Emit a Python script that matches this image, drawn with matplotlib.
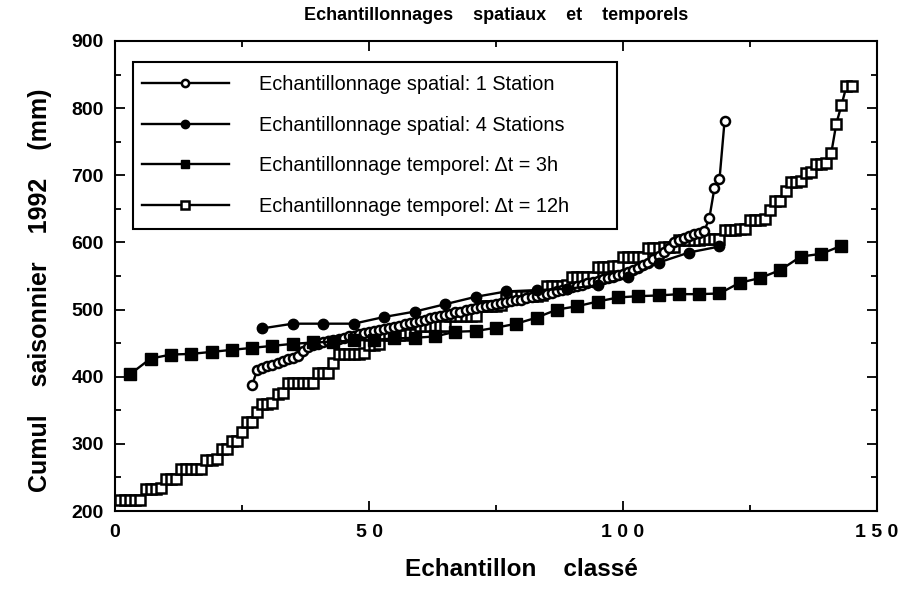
import numpy as np
import matplotlib
matplotlib.use('Agg')
import matplotlib.pyplot as plt
from matplotlib.patches import Rectangle
from matplotlib.ticker import MultipleLocator, FixedLocator

plt.rcParams['font.family'] = ['Liberation Sans', 'DejaVu Sans']

# ranked samples (x = rank)
rank_12h = np.arange(1, 146)
cumul_12h = [216, 216, 216, 217, 217,
             233, 233, 233, 234,
             247, 247, 248,
             262, 262, 262, 263, 263,
             276, 276, 277,
             292, 292,
             304, 305,
             318,
             332, 332,
             347,
             360, 360, 361,
             375, 376,
             390, 390, 390, 390, 390, 391,
             406, 406, 406,
             420,
             434, 434, 434, 434, 434, 435,
             447, 447, 448,
             462, 462, 462, 462, 462, 463, 463,
             475, 475, 475, 475, 476, 476,
             490, 490, 490, 490, 491, 491,
             506, 506, 506, 506, 507,
             519, 519, 520, 520, 520, 520, 520, 521,
             535, 535, 535, 535, 536,
             548, 548, 548, 549, 549,
             564, 564, 564, 565, 565,
             578, 578, 578, 579, 579,
             592, 592, 592, 593, 593, 593,
             604, 604, 604, 604, 604, 605, 605, 605, 605,
             619, 619, 619, 620, 620,
             634, 634, 634, 635,
             648,
             661, 661,
             676,
             690, 690, 691,
             704, 705,
             717, 717, 718,
             733, 777, 804, 833, 833]

rank_3h = np.arange(3, 144, 4)
cumul_3h = [404, 427, 433, 434, 437, 440, 443, 446, 449, 451,
            452, 454, 455, 457, 458, 460, 467, 468, 473, 479,
            488, 500, 505, 512, 518, 520, 521, 523, 523, 524,
            540, 547, 559, 579, 583, 595]

rank_4st = np.arange(29, 120, 6)
cumul_4st = [472, 479, 479, 479, 489, 497, 508, 519, 527, 529,
             531, 536, 548, 570, 585, 594]

rank_1st = np.arange(27, 121)
cumul_1st = [388, 410, 413, 416, 418, 420, 423, 426, 428, 431,
             438, 444, 447, 449, 451, 453, 455, 456, 458, 460,
             461, 463, 465, 466, 468, 470, 471, 473, 474, 476,
             478, 480, 481, 483, 485, 487, 489, 491, 492, 494,
             496, 497, 499, 501, 502, 504, 505, 507, 508, 510,
             511, 513, 514, 515, 517, 518, 520, 522, 523, 525,
             527, 529, 531, 533, 535, 537, 539, 541, 543, 545,
             547, 549, 551, 553, 556, 559, 562, 566, 570, 575,
             580, 586, 592, 600, 604, 607, 609, 612, 614, 617,
             636, 681, 694, 781]

labels = ['Echantillonnage spatial: 1 Station',
          'Echantillonnage spatial: 4 Stations',
          'Echantillonnage temporel: \u0394t = 3h',
          'Echantillonnage temporel: \u0394t = 12h']

fig = plt.figure(figsize=(9.1, 5.89), dpi=100)
ax = fig.add_axes([0.1264, 0.1324, 0.8373, 0.798])

ax.plot(rank_12h, cumul_12h, '-s', color='black', lw=1.7, ms=7,
        mfc='white', mec='black', mew=1.8, label=labels[3], zorder=2)
ax.plot(rank_1st, cumul_1st, '-o', color='black', lw=1.7, ms=6.5,
        mfc='white', mec='black', mew=1.8, label=labels[0], zorder=3)
ax.plot(rank_4st, cumul_4st, '-o', color='black', lw=1.7, ms=7.5,
        mfc='black', mec='black', label=labels[1], zorder=4)
ax.plot(rank_3h, cumul_3h, '-s', color='black', lw=1.7, ms=8,
        mfc='black', mec='black', label=labels[2], zorder=4)

ax.set_xlim(0, 150)
ax.set_ylim(200, 900)
ax.xaxis.set_major_locator(FixedLocator([0, 50, 100, 150]))
ax.set_xticklabels(['0', '5 0', '1 0 0', '1 5 0'])
ax.xaxis.set_minor_locator(MultipleLocator(25))
ax.yaxis.set_major_locator(MultipleLocator(100))
ax.yaxis.set_minor_locator(MultipleLocator(50))
ax.tick_params(which='both', direction='in', top=True, right=True, width=1.3)
ax.tick_params(which='major', length=7)
ax.tick_params(which='minor', length=4)
ax.tick_params(axis='x', pad=9, labelsize=14)
ax.tick_params(axis='y', pad=8, labelsize=14)
for lab in ax.get_xticklabels() + ax.get_yticklabels():
    lab.set_fontweight('bold')
for sp in ax.spines.values():
    sp.set_linewidth(1.5)

ax.set_xlabel('Echantillon    classé', fontsize=17.5, fontweight='bold')
ax.xaxis.set_label_coords(0.533, -0.1)
ax.set_ylabel('Cumul    saisonnier    1992    (mm)', fontsize=18, fontweight='bold')
ax.yaxis.set_label_coords(-0.083, 0.47)
ax.set_title('Echantillonnages    spatiaux    et    temporels', fontsize=13,
             fontweight='bold', pad=15)

# legend: entries without frame, box drawn separately
handles, _ = ax.get_legend_handles_labels()
order = [1, 2, 3, 0]
leg = ax.legend([handles[i] for i in order], labels, loc='upper left',
                bbox_to_anchor=(0.035, 0.927), fontsize=14.3, frameon=False,
                handlelength=4.4, handletextpad=1.5, labelspacing=1.08,
                borderpad=0, borderaxespad=0, markerscale=0.8)
ax.add_patch(Rectangle((0.0236, 0.6), 0.6354, 0.355, transform=ax.transAxes,
                       fill=False, edgecolor='black', lw=1.5, zorder=5))

fig.savefig('out.png', dpi=100)
